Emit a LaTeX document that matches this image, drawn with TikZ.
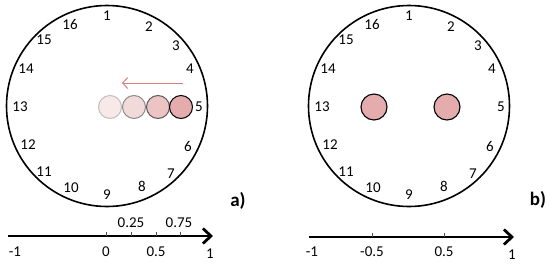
\documentclass[tikz,border=0pt]{standalone}
\usepackage{fontspec}
\setmainfont{Carlito}
\usetikzlibrary{arrows.meta}
\definecolor{dotA}{RGB}{228,172,172}
\definecolor{dotB}{RGB}{236,196,196}
\definecolor{dotC}{RGB}{242,218,218}
\definecolor{dotD}{RGB}{248,232,232}
\definecolor{dotRim}{RGB}{90,90,90}
\definecolor{arrowpink}{RGB}{212,130,130}
\tikzset{
  dial/.style={draw=black, line width=1.6pt, circle, minimum size=201pt, inner sep=0pt},
  num/.style={font=\fontsize{15}{15}\selectfont, inner sep=0pt},
  lbl/.style={font=\fontsize{19}{19}\selectfont\bfseries, inner sep=0pt},
  dot/.style={circle, minimum size=23pt, inner sep=0pt, line width=1pt},
  bigdot/.style={circle, minimum size=26pt, inner sep=0pt, line width=1.1pt, draw=black, fill=dotA},
  axis/.style={line width=2.8pt, -{Straight Barb[length=8pt,width=15pt,line width=2.8pt]}},
  tick/.style={line width=0.6pt, draw=black!70}
}
\begin{document}
\begin{tikzpicture}[x=1pt,y=-1pt]
\useasboundingbox (0,0) rectangle (550,266);
% ---------- panel a ----------
\node[dial] (ca) at (107,106) {};
\foreach \n/\px/\py in {1/107/16,2/149/27,3/176/46,4/190/69,5/199/107,6/188/146,7/171/174,8/142/186,9/107/195,10/71/188,11/44/172,12/28/145,13/20/107,14/26/69,15/44/40,16/70/24}{
  \node[num] (a\n) at (\px,\py) {\n};
}
\node[dot, draw=black!25, fill=dotD] (d4) at (110,107) {};
\node[dot, draw=black!45, fill=dotC] (d3) at (134,107) {};
\node[dot, draw=dotRim, fill=dotB] (d2) at (158,107) {};
\node[dot, draw=black, fill=dotA] (d1) at (181,107) {};
\coordinate (arS) at (183,83);
\coordinate (arE) at (122,83);
\draw[arrowpink, line width=1pt, -{Straight Barb[length=5pt,width=11pt]}] (arS) -- (arE);
\node[lbl] (la) at (238,201) {a)};
% axis a
\coordinate (axaS) at (8,236);
\coordinate (axaE) at (213,236);
\draw[axis] (axaS) -- (axaE);
\foreach \t/\x in {0/106,q/131,h/156,t/180}{
  \coordinate (ta\t) at (\x,236);
  \draw[tick] (ta\t) -- ++(0,-4.5);
}
\node[num] (am1) at (15,252) {-1};
\node[num] (a0) at (106,252) {0};
\node[num] (a05) at (156,252) {0.5};
\node[num] (a1) at (210,254) {1};
\node[num] (a025) at (131,223) {0.25};
\node[num] (a075) at (179,223) {0.75};
% ---------- panel b ----------
\node[dial] (cb) at (409,106) {};
\foreach \n/\px/\py in {1/107/16,2/149/27,3/176/46,4/190/69,5/199/107,6/188/146,7/171/174,8/142/186,9/107/195,10/71/188,11/44/172,12/28/145,13/20/107,14/26/69,15/44/40,16/70/24}{
  \node[num] (b\n) at (\px+302,\py) {\n};
}
\node[bigdot] (e1) at (374,107) {};
\node[bigdot] (e2) at (447,107) {};
\node[lbl] (lb) at (538,200) {b)};
% axis b
\coordinate (axbS) at (309,237);
\coordinate (axbE) at (514,237);
\draw[axis] (axbS) -- (axbE);
\foreach \t/\x in {m/372,p/444}{
  \coordinate (tb\t) at (\x,237);
  \draw[tick] (tb\t) -- ++(0,-4.5);
}
\node[num] (bm1) at (312,252) {-1};
\node[num] (bm05) at (372,252) {-0.5};
\node[num] (b05) at (444,252) {0.5};
\node[num] (b1) at (512,255) {1};
\end{tikzpicture}
\end{document}
